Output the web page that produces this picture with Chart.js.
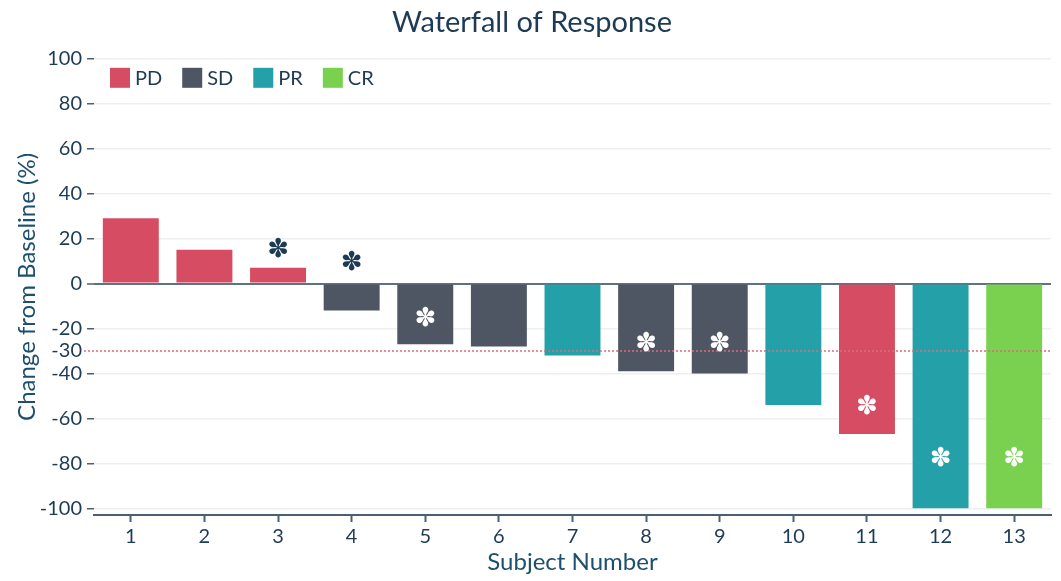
<!DOCTYPE html>
<html>
<head>
<meta charset="utf-8">
<title>Waterfall of Response</title>
<script src="https://cdn.jsdelivr.net/npm/chart.js@4.4.0/dist/chart.umd.min.js"></script>
<style>
  html, body { margin: 0; padding: 0; background: #fff; }
  #wrap { width: 1061px; height: 581px; }
</style>
</head>
<body>
<div id="wrap"><canvas id="waterfall"></canvas></div>
<script>
// subjects and best change from baseline (%)
const subjects = ['1', '2', '3', '4', '5', '6', '7', '8', '9', '10', '11', '12', '13'];
const change = [29, 15, 7, -12, -27, -28, -32, -39, -40, -54, -67, -100, -100];
const response = ['PD', 'PD', 'PD', 'SD', 'SD', 'SD', 'PR', 'SD', 'SD', 'PR', 'PD', 'PR', 'CR'];
// where the asterisk sits for flagged subjects (null = no flag)
const asterisk = [null, null, 15, 9, -16, null, null, -27, -27, null, -55, -78, -78];

const legendLabels = ['PD', 'SD', 'PR', 'CR'];
const legendColors = ['#d64c62', '#4e5563', '#23a0a8', '#79d14f'];
const yTicks = [100, 80, 60, 40, 20, 0, -20, -30, -40, -60, -80, -100];
const threshold = -30;

const ink = '#1d3b55';
const font = 'Lato, "Open Sans", sans-serif';

const colorOf = r => legendColors[legendLabels.indexOf(r)];

// legend row, dotted PR threshold line and the asterisk flags
const overlay = {
  id: 'overlay',
  afterDatasetsDraw(chart) {
    const ctx = chart.ctx;
    const x = chart.scales.x, y = chart.scales.y;
    const area = chart.chartArea;
    ctx.save();

    // threshold
    const ty = y.getPixelForValue(threshold);
    ctx.strokeStyle = '#e06a80';
    ctx.lineWidth = 1.5;
    ctx.setLineDash([2, 2]);
    ctx.beginPath();
    ctx.moveTo(area.left - 10, ty);
    ctx.lineTo(area.right, ty);
    ctx.stroke();
    ctx.setLineDash([]);

    // legend
    ctx.font = '20px ' + font;
    ctx.textBaseline = 'middle';
    ctx.textAlign = 'left';
    let lx = area.left + 16;
    const ly = area.top + 9;
    legendLabels.forEach((l, i) => {
      ctx.fillStyle = legendColors[i];
      ctx.fillRect(lx, ly, 20, 20);
      ctx.fillStyle = ink;
      ctx.fillText(l, lx + 25, ly + 11);
      lx += 25 + ctx.measureText(l).width + 20;
    });

    // flags
    ctx.font = '26px "DejaVu Sans"';
    ctx.textAlign = 'center';
    asterisk.forEach((v, i) => {
      if (v === null) return;
      const inside = Math.sign(v) === Math.sign(change[i]) && Math.abs(v) < Math.abs(change[i]);
      ctx.fillStyle = inside ? '#ffffff' : ink;
      ctx.fillText('\u273D', x.getPixelForValue(i), y.getPixelForValue(v));
    });
    ctx.restore();
  }
};

new Chart(document.getElementById('waterfall'), {
  type: 'bar',
  data: {
    labels: subjects,
    datasets: [{
      data: change,
      backgroundColor: response.map(colorOf),
      barPercentage: 0.76,
      categoryPercentage: 1.0
    }]
  },
  options: {
    responsive: true,
    maintainAspectRatio: false,
    animation: false,
    layout: { padding: { left: 13, right: 10, top: 0, bottom: 4 } },
    plugins: {
      title: {
        display: true,
        text: 'Waterfall of Response',
        color: ink,
        font: { family: font, size: 29, weight: 'normal' },
        padding: { top: 5, bottom: 19 }
      },
      legend: { display: false },
      tooltip: { enabled: false }
    },
    scales: {
      x: {
        grid: {
          offset: false,
          drawOnChartArea: false,
          tickLength: 7,
          tickColor: '#4a6072',
          tickWidth: 2
        },
        border: { display: true, color: '#4a6072', width: 2 },
        ticks: { color: ink, font: { family: font, size: 20 }, padding: 3 },
        title: {
          display: true,
          text: 'Subject Number',
          color: '#1d4f6e',
          font: { family: font, size: 24 },
          padding: { top: 0, bottom: 0 }
        },
        afterFit: s => { s.height = 62; }
      },
      y: {
        min: -103,
        max: 100,
        afterBuildTicks: s => { s.ticks = yTicks.map(v => ({ value: v })); },
        grid: {
          color: c => c.tick.value === 0 ? '#5d7384' : (c.tick.value === threshold ? 'rgba(0,0,0,0)' : '#efefef'),
          lineWidth: c => c.tick.value === 0 ? 2 : 1.5,
          tickLength: 7,
          tickColor: c => c.tick.value === threshold ? 'rgba(0,0,0,0)' : '#4a6072',
          tickWidth: 1.5
        },
        border: { display: false },
        ticks: {
          color: ink,
          font: { family: font, size: 20 },
          padding: 5,
          autoSkip: false
        },
        title: {
          display: true,
          text: 'Change from Baseline (%)',
          color: '#1d4f6e',
          font: { family: font, size: 24 },
          padding: { top: 0, bottom: 0 }
        },
        afterFit: s => { s.width = 81; }
      }
    }
  },
  plugins: [overlay]
});
</script>
</body>
</html>
